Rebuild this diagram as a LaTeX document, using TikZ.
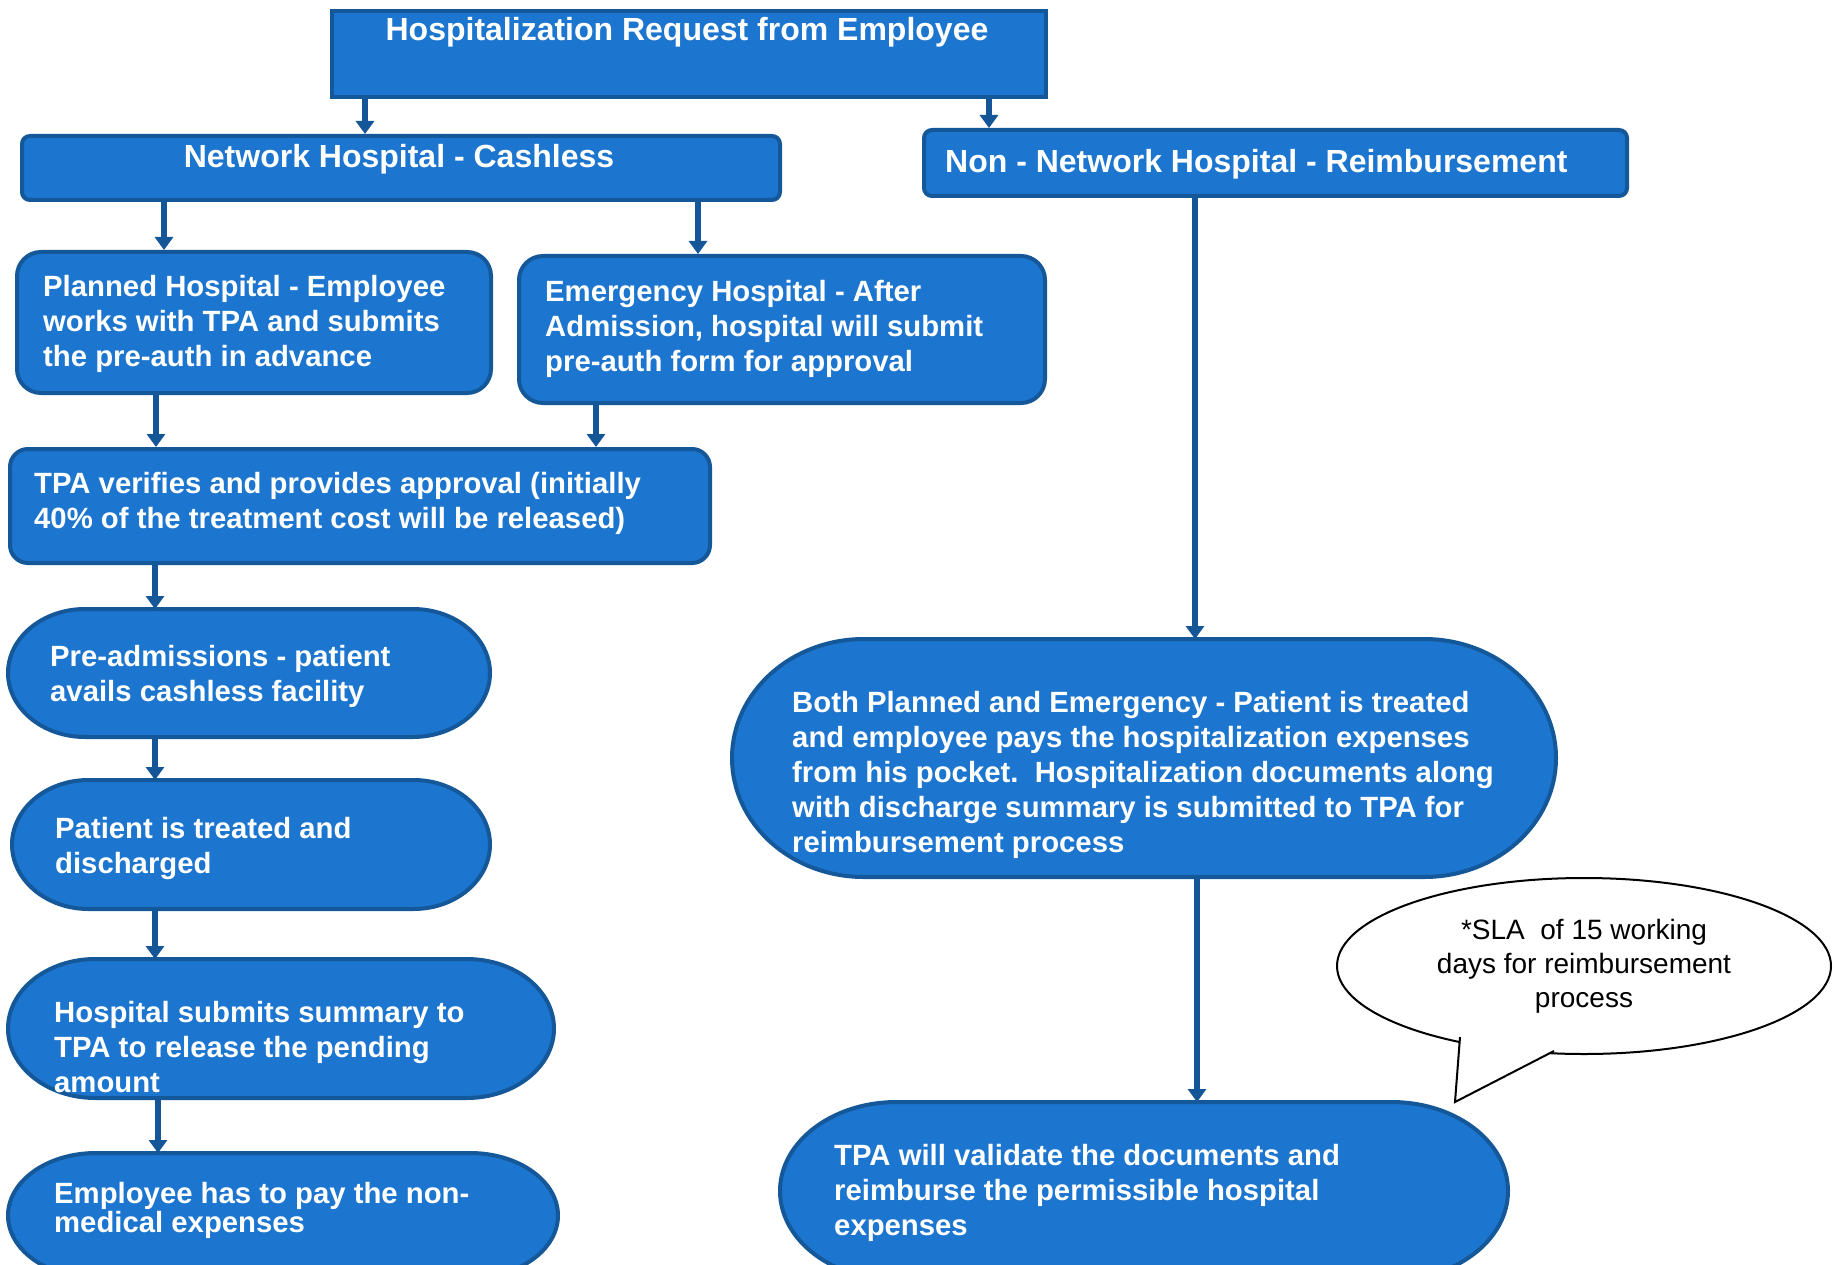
\documentclass[tikz,border=0pt]{standalone}
\usepackage{fontspec}
\setmainfont{Liberation Sans}
\usetikzlibrary{arrows.meta,shapes.geometric}
\definecolor{fillb}{RGB}{28,117,206}
\definecolor{bdr}{RGB}{21,88,154}
\definecolor{arrc}{RGB}{20,86,152}
\tikzset{
  box/.style={draw=bdr, fill=fillb, line width=4pt, inner sep=0pt, anchor=north west},
  lbl/.style={text=white, font=\bfseries\fontsize{29.3}{35}\selectfont, align=left, inner sep=0pt, anchor=west},
  ttl/.style={text=white, font=\bfseries\fontsize{32}{38}\selectfont, inner sep=0pt},
  arr/.style={draw=arrc, line width=6pt, -{Triangle[length=13pt,width=18pt]}},
}
\newcommand\pillnode[5]{%
  \pgfmathsetmacro\pw{#4-#2}%
  \pgfmathsetmacro\ph{(#5-#3)/2}%
  \pgfmathsetmacro\prx{0.16*\pw}%
  \draw[draw=bdr, fill=fillb, line width=4pt] (#2+\prx,#3) -- (#4-\prx,#3)
    arc[start angle=-90,end angle=90,x radius=\prx,y radius=\ph]
    -- (#2+\prx,#5)
    arc[start angle=90,end angle=270,x radius=\prx,y radius=\ph] -- cycle;
  \node[inner sep=0pt, minimum width=\pw, minimum height=2*\ph, anchor=north west] (#1) at (#2,#3) {};
}
\begin{document}
\begin{tikzpicture}[x=1pt,y=-1pt]
\useasboundingbox (0,0) rectangle (1839,1265);
\fill[white] (0,0) rectangle (1839,1265);

% rectangular boxes
\node[box, minimum width=714, minimum height=86] (top) at (330,9) {};
\node[box, rounded corners=8, minimum width=758, minimum height=64] (net) at (20,134) {};
\node[box, rounded corners=8, minimum width=703, minimum height=66] (nn) at (922,128) {};
\node[box, rounded corners=24, minimum width=474, minimum height=141] (plan) at (15,250) {};
\node[box, rounded corners=24, minimum width=526, minimum height=147] (emer) at (517,254) {};
\node[box, rounded corners=18, minimum width=700, minimum height=114] (tpa) at (8,447) {};

% terminator boxes
\pillnode{pre}{8}{609}{490}{737}
\pillnode{pat}{12}{780}{490}{909}
\pillnode{hos}{8}{959}{554}{1098}
\pillnode{emp}{8}{1153}{558}{1278}
\pillnode{both}{732}{639}{1556}{877}
\pillnode{val}{780}{1102}{1508}{1280}

% texts
\node[ttl] (ttop) at (687,32.5) {Hospitalization Request from Employee};
\node[ttl] (tnet) at (399,159.5) {Network Hospital - Cashless};
\node[ttl, anchor=west] (tnn) at (945,164.5) {Non - Network Hospital - Reimbursement};
\node[lbl] (tplan) at (43,323.5) {Planned Hospital - Employee\\works with TPA and submits\\the pre-auth in advance};
\node[lbl] (temer) at (545,328.5) {Emergency Hospital - After\\Admission, hospital will submit\\pre-auth form for approval};
\node[lbl] (ttpa) at (34,503.5) {TPA verifies and provides approval (initially\\40\% of the treatment cost will be released)};
\node[lbl] (tpre) at (50,676.5) {Pre-admissions - patient\\avails cashless facility};
\node[lbl] (tpat) at (55,848.5) {Patient is treated and\\discharged};
\node[lbl] (thos) at (54,1047) {Hospital submits summary to\\TPA to release the pending\\amount};
\node[lbl, font=\bfseries\fontsize{29.3}{29}\selectfont] (temp) at (54,1210) {Employee has to pay the non-\\medical expenses};
\node[lbl] (tboth) at (792,775) {Both Planned and Emergency - Patient is treated\\and employee pays the hospitalization expenses\\from his pocket.\ \ Hospitalization documents along\\with discharge summary is submitted to TPA for\\reimbursement process};
\node[lbl] (tval) at (834,1193) {TPA will validate the documents and\\reimburse the permissible hospital\\expenses};

% arrows
\draw[arr] (365,0 |- top.south) -- (365,0 |- net.north);
\draw[arr] (989,0 |- top.south) -- (989,0 |- nn.north);
\draw[arr] (164,0 |- net.south) -- (164,0 |- plan.north);
\draw[arr] (698,0 |- net.south) -- (698,0 |- emer.north);
\draw[arr] (156,0 |- plan.south) -- (156,0 |- tpa.north);
\draw[arr] (596,0 |- emer.south) -- (596,0 |- tpa.north);
\draw[arr] (155,0 |- tpa.south) -- (155,0 |- pre.north);
\draw[arr] (155,0 |- pre.south) -- (155,0 |- pat.north);
\draw[arr] (155,0 |- pat.south) -- (155,0 |- hos.north);
\draw[arr] (158,0 |- hos.south) -- (158,0 |- emp.north);
\draw[arr] (1195,0 |- nn.south) -- (1195,0 |- both.north);
\draw[arr] (1197,0 |- both.south) -- (1197,0 |- val.north);

% callout
\node[ellipse, draw=black, fill=white, line width=2pt, minimum width=494, minimum height=176, inner sep=0pt,
  align=center, font=\fontsize{28}{34}\selectfont] (sla) at (1584,966)
  {*SLA\ \ of 15 working\\days for reimbursement\\process};
\coordinate (tip) at (1455,1102);
\fill[white] (1460,1037) -- (tip) -- (1554,1051) -- (1540,1030) -- (1470,1025) -- cycle;
\draw[black, line width=2pt, line join=miter] (1460,1037) -- (tip) -- (1554,1051);
\end{tikzpicture}
\end{document}
